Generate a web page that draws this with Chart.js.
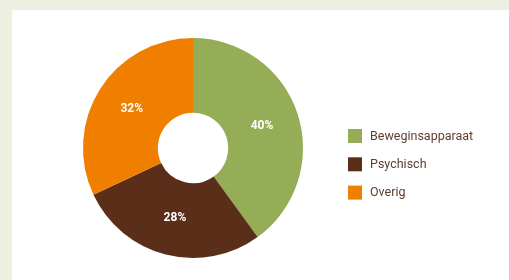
<!DOCTYPE html>
<html>
<head>
<meta charset="utf-8">
<script src="https://cdn.jsdelivr.net/npm/chart.js@4/dist/chart.umd.min.js"></script>
<style>
  html, body { margin: 0; padding: 0; }
  body { width: 509px; height: 280px; background: #edf0e0; position: relative; overflow: hidden; }
  #panel { position: absolute; left: 12px; top: 10px; right: 0; bottom: 0; background: #ffffff; }
  #wrap { position: absolute; left: 0; top: 0; width: 509px; height: 280px; }
</style>
</head>
<body>
<div id="panel"></div>
<div id="wrap"><canvas id="c" width="509" height="280"></canvas></div>
<script>
const categories = ['Beweginsapparaat', 'Psychisch', 'Overig'];
const values = [40, 28, 32];
const valueLabels = ['40%', '28%', '32%'];
const colors = ['#95ad56', '#5b2e1a', '#f07f00'];

const labelPlugin = {
  id: 'sliceLabels',
  afterDatasetsDraw(chart) {
    const ctx = chart.ctx;
    const meta = chart.getDatasetMeta(0);
    ctx.save();
    ctx.fillStyle = '#ffffff';
    ctx.font = 'bold 12px Roboto, "DejaVu Sans", sans-serif';
    ctx.textAlign = 'center';
    ctx.textBaseline = 'middle';
    meta.data.forEach((arc, i) => {
      const p = arc.tooltipPosition();
      ctx.fillText(valueLabels[i], p.x, p.y);
    });
    ctx.restore();
  }
};

const legendPlugin = {
  id: 'sideLegend',
  afterDraw(chart) {
    const ctx = chart.ctx;
    const x0 = 348, y0 = 129, step = 28.3, box = 14;
    ctx.save();
    ctx.font = '12.5px Roboto, "DejaVu Sans", sans-serif';
    ctx.textBaseline = 'middle';
    ctx.textAlign = 'left';
    chart.data.labels.forEach((lab, i) => {
      const y = y0 + i * step;
      ctx.fillStyle = chart.data.datasets[0].backgroundColor[i];
      ctx.fillRect(x0, y, box, box);
      ctx.fillStyle = '#5e3d2e';
      ctx.fillText(lab, x0 + 22, y + box / 2 + 0.5);
    });
    ctx.restore();
  }
};

new Chart(document.getElementById('c'), {
  type: 'doughnut',
  data: {
    labels: categories,
    datasets: [{
      data: values,
      backgroundColor: colors,
      borderWidth: 0,
      hoverOffset: 0
    }]
  },
  options: {
    responsive: false,
    animation: false,
    cutout: '32%',
    layout: { padding: { left: 83, right: 206, top: 38, bottom: 22 } },
    plugins: {
      legend: { display: false },
      tooltip: { enabled: false }
    }
  },
  plugins: [labelPlugin, legendPlugin]
});
</script>
</body>
</html>
